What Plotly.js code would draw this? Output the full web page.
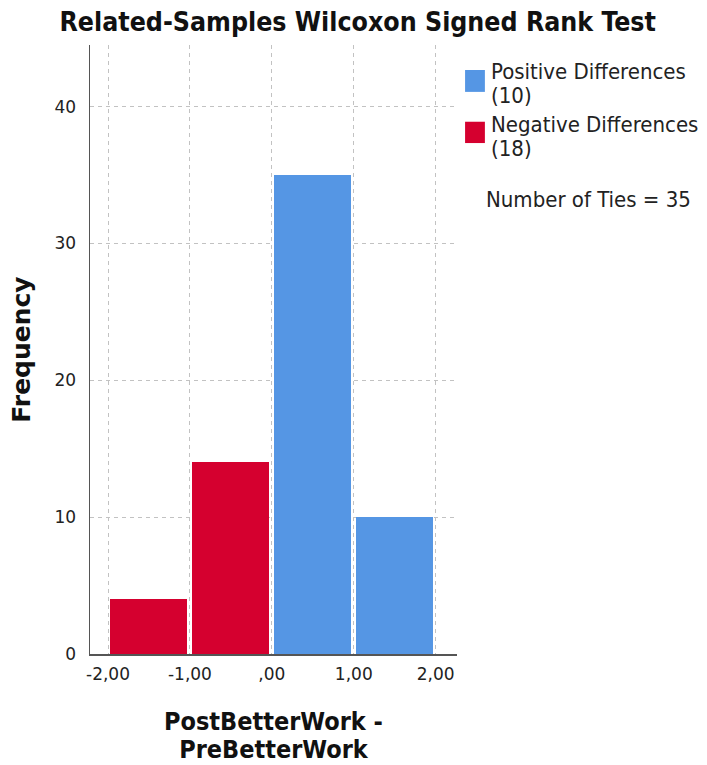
<!DOCTYPE html>
<html>
<head>
<meta charset="utf-8">
<script src="https://cdn.plot.ly/plotly-3.0.1.min.js"></script>
<style>html,body{margin:0;padding:0;background:#fff;}#chart{width:707px;height:765px;}</style>
</head>
<body>
<div id="chart"></div>
<script>
// ---- data ----
const binEdges = [-2, -1, 0, 1, 2];
const frequencies = [4, 14, 35, 10];
const binSign = ['neg', 'neg', 'pos', 'pos'];
const tickValues = [-2, -1, 0, 1, 2];
const tickLabels = ['-2,00', '-1,00', ',00', '1,00', '2,00'];
const yTickValues = [0, 10, 20, 30, 40];
const seriesNames = ['Positive Differences', 'Negative Differences'];
const seriesCounts = [10, 18];
const numberOfTies = 35;
const xTitleLines = ['PostBetterWork -', 'PreBetterWork'];

const blue = '#5596E4';
const red = '#D5002F';

function binsFor(sign) {
  const x = [], y = [];
  frequencies.forEach((f, i) => {
    if (binSign[i] === sign) {
      x.push((binEdges[i] + binEdges[i + 1]) / 2);
      y.push(f);
    }
  });
  return {x, y};
}
const neg = binsFor('neg');
const pos = binsFor('pos');

const traces = [
  {type: 'bar', name: seriesNames[1], x: neg.x, y: neg.y, width: 0.94,
   marker: {color: red, line: {width: 0}}, showlegend: false, hoverinfo: 'x+y'},
  {type: 'bar', name: seriesNames[0], x: pos.x, y: pos.y, width: 0.94,
   marker: {color: blue, line: {width: 0}}, showlegend: false, hoverinfo: 'x+y'}
];

const cond = 'DejaVu Sans Condensed, DejaVu Sans, sans-serif';
// tight leading: base size sets line spacing, inner spans set glyph size
function tight(lines, px) {
  return lines.map(l => '<span style="font-size:' + px + 'px">' + l + '</span>').join('<br>');
}

const layout = {
  width: 707, height: 765,
  margin: {l: 90, r: 250, t: 45, b: 111},
  paper_bgcolor: '#fff', plot_bgcolor: '#fff',
  title: {text: 'Related-Samples Wilcoxon Signed Rank Test', x: 0.506, xref: 'container', y: 0.971, yref: 'container',
          xanchor: 'center', yanchor: 'middle',
          font: {family: cond, size: 26.5, weight: 700, color: '#111'}},
  bargap: 0,
  xaxis: {
    range: [-2.22, 2.26], tickmode: 'array', tickvals: tickValues, ticktext: tickLabels,
    showgrid: true, gridcolor: '#c2c2c2', griddash: '4px,4px', gridwidth: 1,
    showline: true, linecolor: '#555', linewidth: 1.5, zeroline: false, ticks: '',
    ticklabelstandoff: 4,
    tickfont: {family: 'DejaVu Sans, sans-serif', size: 17, color: '#222'},
    title: {text: ''},
    automargin: false, fixedrange: true
  },
  yaxis: {
    range: [0, 44.5], tickmode: 'array', tickvals: yTickValues,
    showgrid: true, gridcolor: '#c2c2c2', griddash: '4px,4px', gridwidth: 1,
    showline: true, linecolor: '#555', linewidth: 1.5, zeroline: false, ticks: '',
    ticklabelstandoff: 9,
    tickfont: {family: 'DejaVu Sans, sans-serif', size: 17, color: '#222'},
    title: {text: 'Frequency', standoff: 16,
            font: {family: 'DejaVu Sans, sans-serif', size: 25, weight: 700, color: '#111'}},
    automargin: false, fixedrange: true
  },
  shapes: [
    {type: 'rect', xref: 'paper', yref: 'paper', x0: 1.022, x1: 1.076, y0: 0.923, y1: 0.959,
     fillcolor: blue, line: {width: 0}},
    {type: 'rect', xref: 'paper', yref: 'paper', x0: 1.022, x1: 1.076, y0: 0.839, y1: 0.874,
     fillcolor: red, line: {width: 0}}
  ],
  annotations: [
    {xref: 'paper', yref: 'paper', x: 1.088, y: 0.936, xanchor: 'left', yanchor: 'middle', align: 'left',
     showarrow: false, text: tight([seriesNames[0], '(' + seriesCounts[0] + ')'], 22),
     font: {family: cond, size: 18.5, color: '#222'}},
    {xref: 'paper', yref: 'paper', x: 1.088, y: 0.8498, xanchor: 'left', yanchor: 'middle', align: 'left',
     showarrow: false, text: tight([seriesNames[1], '(' + seriesCounts[1] + ')'], 22),
     font: {family: cond, size: 18.5, color: '#222'}},
    {xref: 'paper', yref: 'paper', x: 1.074, y: 0.7455, xanchor: 'left', yanchor: 'middle', align: 'left',
     showarrow: false, text: 'Number of Ties = ' + numberOfTies, font: {family: cond, size: 22, color: '#222'}},
    {xref: 'paper', yref: 'paper', x: 0.5, y: -0.134, xanchor: 'center', yanchor: 'middle', align: 'center',
     showarrow: false, text: tight(xTitleLines, 25),
     font: {family: cond, size: 21.5, weight: 700, color: '#111'}}
  ]
};

Plotly.newPlot('chart', traces, layout, {displayModeBar: false, staticPlot: true});
</script>
</body>
</html>
